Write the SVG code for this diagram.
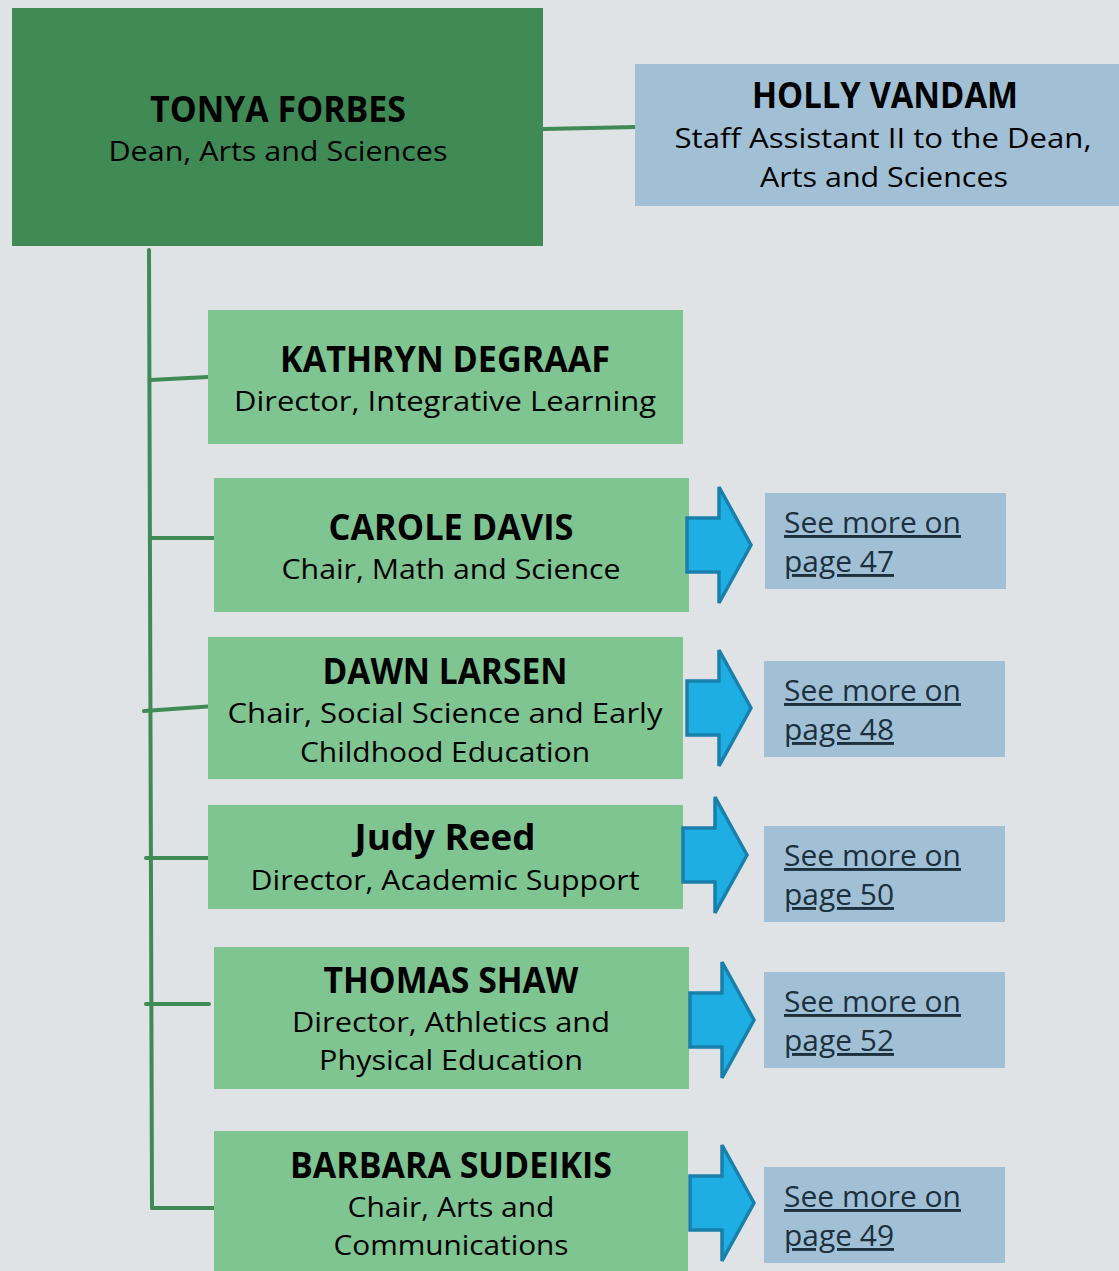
<svg xmlns="http://www.w3.org/2000/svg" width="1119" height="1271" viewBox="0 0 1119 1271">
<style>
.bg{fill:#dfe3e6}
.dean{fill:#3f8a55}
.staff{fill:#a1c0d6}
.unit{fill:#7fc592}
.link{fill:#a1c0d6}
.arrow{fill:#1eaee4;stroke:#1880aa;stroke-width:3.5;stroke-linejoin:miter}
.conn{stroke:#3f8a55;stroke-width:4;stroke-linecap:round;fill:none}
text{font-family:"Open Sans","DejaVu Sans",sans-serif;fill:#000}
.name{font-size:35px;font-weight:bold;text-anchor:middle}
.sub{font-size:28px;text-anchor:middle}
.lk{font-size:29px;fill:#1c303d;text-decoration:underline}
</style>
<defs>
<path id="arr" d="M-64,-27 H-32 V-58 L0,0 L-32,58 V27 H-64 Z"/>
</defs>
<rect class="bg" x="0" y="0" width="1119" height="1271"/>

<g id="connectors">
<line class="conn" x1="543" y1="129" x2="636" y2="127"/>
<line class="conn" x1="149" y1="250" x2="152" y2="1208"/>
<line class="conn" x1="150" y1="380" x2="208" y2="377"/>
<line class="conn" x1="150" y1="538" x2="214" y2="538"/>
<line class="conn" x1="144" y1="711" x2="215" y2="706"/>
<line class="conn" x1="146" y1="858" x2="209" y2="858"/>
<line class="conn" x1="146" y1="1004" x2="209" y2="1004"/>
<line class="conn" x1="152" y1="1208" x2="214" y2="1208"/>
</g>

<g id="tonya">
<rect class="dean" x="12" y="8" width="531" height="238"/>
<text class="name" x="278" y="122" textLength="256" lengthAdjust="spacingAndGlyphs">TONYA FORBES</text>
<text class="sub" x="278" y="161" textLength="339" lengthAdjust="spacingAndGlyphs">Dean, Arts and Sciences</text>
</g>

<g id="holly">
<rect class="staff" x="635" y="64" width="484" height="142"/>
<text class="name" x="885" y="108" textLength="266" lengthAdjust="spacingAndGlyphs">HOLLY VANDAM</text>
<text class="sub" x="883" y="148" textLength="417" lengthAdjust="spacingAndGlyphs">Staff Assistant II to the Dean,</text>
<text class="sub" x="884" y="187" textLength="248" lengthAdjust="spacingAndGlyphs">Arts and Sciences</text>
</g>

<g id="kathryn">
<rect class="unit" x="208" y="310" width="475" height="134"/>
<text class="name" x="445" y="372" textLength="330" lengthAdjust="spacingAndGlyphs">KATHRYN DEGRAAF</text>
<text class="sub" x="445" y="411" textLength="422" lengthAdjust="spacingAndGlyphs">Director, Integrative Learning</text>
</g>

<g id="carole">
<rect class="unit" x="214" y="478" width="475" height="134"/>
<text class="name" x="451" y="540" textLength="245" lengthAdjust="spacingAndGlyphs">CAROLE DAVIS</text>
<text class="sub" x="451" y="579" textLength="339" lengthAdjust="spacingAndGlyphs">Chair, Math and Science</text>
</g>

<g id="dawn">
<rect class="unit" x="208" y="637" width="475" height="142"/>
<text class="name" x="445" y="684" textLength="245" lengthAdjust="spacingAndGlyphs">DAWN LARSEN</text>
<text class="sub" x="445" y="723" textLength="435" lengthAdjust="spacingAndGlyphs">Chair, Social Science and Early</text>
<text class="sub" x="445" y="762" textLength="290" lengthAdjust="spacingAndGlyphs">Childhood Education</text>
</g>

<g id="judy">
<rect class="unit" x="208" y="805" width="475" height="104"/>
<text class="name" x="445" y="850" textLength="181" lengthAdjust="spacingAndGlyphs">Judy Reed</text>
<text class="sub" x="445" y="890" textLength="389" lengthAdjust="spacingAndGlyphs">Director, Academic Support</text>
</g>

<g id="thomas">
<rect class="unit" x="214" y="947" width="475" height="142"/>
<text class="name" x="451" y="993" textLength="255" lengthAdjust="spacingAndGlyphs">THOMAS SHAW</text>
<text class="sub" x="451" y="1032" textLength="318" lengthAdjust="spacingAndGlyphs">Director, Athletics and</text>
<text class="sub" x="451" y="1070" textLength="264" lengthAdjust="spacingAndGlyphs">Physical Education</text>
</g>

<g id="barbara">
<rect class="unit" x="214" y="1131" width="474" height="140"/>
<text class="name" x="451" y="1178" textLength="322" lengthAdjust="spacingAndGlyphs">BARBARA SUDEIKIS</text>
<text class="sub" x="451" y="1217" textLength="207" lengthAdjust="spacingAndGlyphs">Chair, Arts and</text>
<text class="sub" x="451" y="1255" textLength="235" lengthAdjust="spacingAndGlyphs">Communications</text>
</g>

<g id="arrow47"><use href="#arr" class="arrow" transform="translate(751,545)"/></g>
<g id="arrow48"><use href="#arr" class="arrow" transform="translate(751,708)"/></g>
<g id="arrow50"><use href="#arr" class="arrow" transform="translate(747,855)"/></g>
<g id="arrow52"><use href="#arr" class="arrow" transform="translate(754,1020)"/></g>
<g id="arrow49"><use href="#arr" class="arrow" transform="translate(754,1203)"/></g>

<g id="link47">
<rect class="link" x="765" y="493" width="241" height="96"/>
<text class="lk" x="784" y="533" textLength="177" lengthAdjust="spacingAndGlyphs">See more on</text>
<text class="lk" x="784" y="572" textLength="110" lengthAdjust="spacingAndGlyphs">page 47</text>
</g>
<g id="link48">
<rect class="link" x="764" y="661" width="241" height="96"/>
<text class="lk" x="784" y="701" textLength="177" lengthAdjust="spacingAndGlyphs">See more on</text>
<text class="lk" x="784" y="740" textLength="110" lengthAdjust="spacingAndGlyphs">page 48</text>
</g>
<g id="link50">
<rect class="link" x="764" y="826" width="241" height="96"/>
<text class="lk" x="784" y="866" textLength="177" lengthAdjust="spacingAndGlyphs">See more on</text>
<text class="lk" x="784" y="905" textLength="110" lengthAdjust="spacingAndGlyphs">page 50</text>
</g>
<g id="link52">
<rect class="link" x="764" y="972" width="241" height="96"/>
<text class="lk" x="784" y="1012" textLength="177" lengthAdjust="spacingAndGlyphs">See more on</text>
<text class="lk" x="784" y="1051" textLength="110" lengthAdjust="spacingAndGlyphs">page 52</text>
</g>
<g id="link49">
<rect class="link" x="764" y="1167" width="241" height="96"/>
<text class="lk" x="784" y="1207" textLength="177" lengthAdjust="spacingAndGlyphs">See more on</text>
<text class="lk" x="784" y="1246" textLength="110" lengthAdjust="spacingAndGlyphs">page 49</text>
</g>
</svg>
